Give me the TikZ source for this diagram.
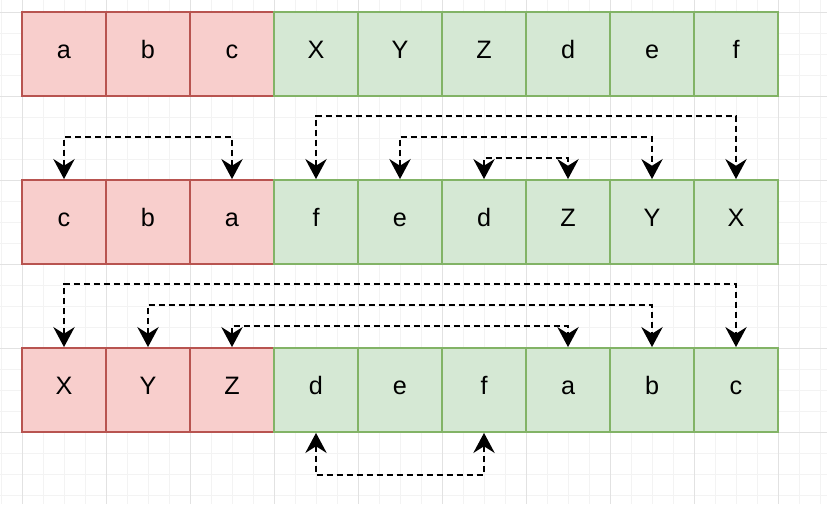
\documentclass[tikz,border=0pt]{standalone}
\usepackage{fontspec}
\setmainfont{Liberation Sans}
\usetikzlibrary{arrows.meta}
\definecolor{rojofondo}{HTML}{F8CECC}
\definecolor{rojoborde}{HTML}{B85450}
\definecolor{verdefondo}{HTML}{D5E8D4}
\definecolor{verdeborde}{HTML}{82B366}
\definecolor{rejillafina}{HTML}{F3F3F3}
\definecolor{rejillagruesa}{HTML}{E2E2E2}
\begin{document}
\begin{tikzpicture}[x=0.75pt, y=-0.75pt,
    caja/.style={draw, line width=1.4pt, minimum width=63pt, minimum height=63pt,
                 inner sep=0pt, text height=0.72em, text depth=0pt,
                 font=\fontsize{18.9}{22}\selectfont},
    rojo/.style={caja, fill=rojofondo, draw=rojoborde},
    verde/.style={caja, fill=verdefondo, draw=verdeborde},
    flecha/.style={{Stealth[length=15pt,width=16pt,inset=5pt]}-{Stealth[length=15pt,width=16pt,inset=5pt]},
                   dash pattern=on 4.5pt off 3pt, line width=1.5pt}]
    \useasboundingbox (0,0) rectangle (827,504);
    % Rejilla de fondo
    \foreach \k in {0,...,39} \draw[rejillafina, line width=0.75pt] ({1+21*\k},0) -- ++(0,504);
    \foreach \k in {0,...,23} \draw[rejillafina, line width=0.75pt] (0,{12+21*\k}) -- ++(827,0);
    \foreach \k in {0,...,9} \draw[rejillagruesa, line width=0.75pt] ({22+84*\k},0) -- ++(0,504);
    \foreach \k in {0,...,5} \draw[rejillagruesa, line width=0.75pt] (0,{12+84*\k}) -- ++(827,0);
    % Fila 1
    \foreach \t/\s [count=\i] in {a/rojo,b/rojo,c/rojo,X/verde,Y/verde,Z/verde,d/verde,e/verde,f/verde}
        \node[\s] (r1-\i) at ({64+84*(\i-1)},54) {\t};
    % Fila 2
    \foreach \t/\s [count=\i] in {c/rojo,b/rojo,a/rojo,f/verde,e/verde,d/verde,Z/verde,Y/verde,X/verde}
        \node[\s] (r2-\i) at ({64+84*(\i-1)},222) {\t};
    % Fila 3
    \foreach \t/\s [count=\i] in {X/rojo,Y/rojo,Z/rojo,d/verde,e/verde,f/verde,a/verde,b/verde,c/verde}
        \node[\s] (r3-\i) at ({64+84*(\i-1)},390) {\t};
    % Intercambios entre fila 1 y fila 2
    \draw[flecha] (r2-3.north) -- ++(0,-42) -| (r2-1.north);
    \draw[flecha] (r2-4.north) -- ++(0,-63) -| (r2-9.north);
    \draw[flecha] (r2-5.north) -- ++(0,-42) -| (r2-8.north);
    \draw[flecha] (r2-6.north) -- ++(0,-21) -| (r2-7.north);
    % Intercambios entre fila 2 y fila 3
    \draw[flecha] (r3-1.north) -- ++(0,-63) -| (r3-9.north);
    \draw[flecha] (r3-2.north) -- ++(0,-42) -| (r3-8.north);
    \draw[flecha] (r3-3.north) -- ++(0,-21) -| (r3-7.north);
    % Debajo de la fila 3
    \draw[flecha] (r3-4.south) -- ++(0,42) -| (r3-6.south);
\end{tikzpicture}
\end{document}
